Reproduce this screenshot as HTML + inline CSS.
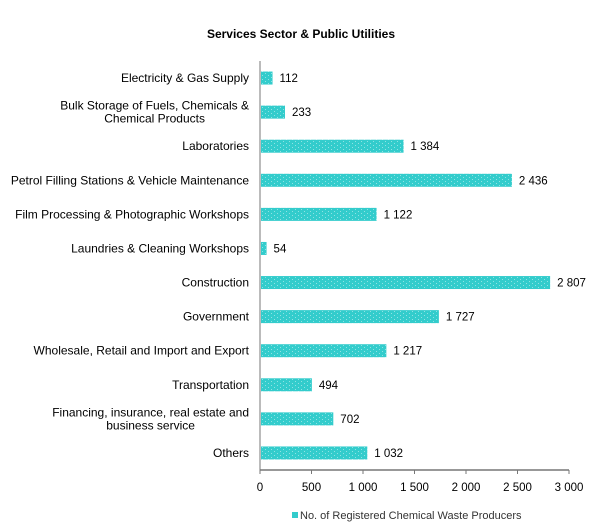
<!DOCTYPE html>
<html><head><meta charset="utf-8"><style>
body{margin:0;background:#fff;}
svg{display:block;font-family:"Liberation Sans",Arial,sans-serif;}
</style></head><body>
<svg id="c" width="601" height="530">
<defs><pattern id="dots" width="6" height="4" patternUnits="userSpaceOnUse"><rect width="6" height="4" fill="#33cccc"/><rect x="1" y="1" width="1" height="1" fill="#8fe3e3"/><rect x="4" y="3" width="1" height="1" fill="#8fe3e3"/></pattern></defs>
<text x="301" y="38" text-anchor="middle" font-size="12" font-weight="bold">Services Sector &amp; Public Utilities</text>
</svg>
<script>
const categories=[["Electricity & Gas Supply"],["Bulk Storage of Fuels, Chemicals &","Chemical Products"],["Laboratories"],["Petrol Filling Stations & Vehicle Maintenance"],["Film Processing & Photographic Workshops"],["Laundries & Cleaning Workshops"],["Construction"],["Government"],["Wholesale, Retail and Import and Export"],["Transportation"],["Financing, insurance, real estate and","business service"],["Others"]];
const values=[112,233,1384,2436,1122,54,2807,1727,1217,494,702,1032];
const valueLabels=["112","233","1 384","2 436","1 122","54","2 807","1 727","1 217","494","702","1 032"];
const ticks=[0,500,1000,1500,2000,2500,3000];
const tickLabels=["0","500","1 000","1 500","2 000","2 500","3 000"];
const svg=document.getElementById('c');const NS='http://www.w3.org/2000/svg';
const x0=260,x1=569,xmax=3000,plotTop=61,plotBottom=470;
const band=(plotBottom-plotTop)/categories.length;
const X=v=>x0+v/xmax*(x1-x0);
const Y=i=>plotTop+band*(i+0.5);
function mk(t,a,txt){const e=document.createElementNS(NS,t);for(const k in a)e.setAttribute(k,a[k]);if(txt!=null)e.textContent=txt;svg.appendChild(e);return e;}
categories.forEach((c,i)=>{
 const y=Y(i);
 const r=mk('rect',{x:x0+1,y:y-6.5,width:X(values[i])-x0,height:13,fill:'url(#dots)'});
 
 
 const v=mk('text',{x:X(values[i])+8,y:y+4,'font-size':11.5},valueLabels[i]);
 
 
 const lines=c.map((line,j)=>{
  const t=mk('text',{x:249,y:y+4+(j-(c.length-1)/2)*13,'text-anchor':'end','font-size':12},line);
  
  
  return t;
 });
 if(lines.length>1){
  const w=Math.max(...lines.map(t=>t.getComputedTextLength()));
  lines.forEach(t=>{t.setAttribute('text-anchor','middle');t.setAttribute('x',249-w/2);});
 }
});
const ax=mk('line',{x1:x0,y1:plotBottom,x2:x1,y2:plotBottom,stroke:'#777','stroke-width':1.5});


const ay=mk('line',{x1:x0,y1:plotTop,x2:x0,y2:plotBottom+4,stroke:'#777','stroke-width':1});


ticks.forEach((t,i)=>{
 mk('line',{x1:X(t),y1:plotBottom,x2:X(t),y2:plotBottom+4,stroke:'#777'});
 const l=mk('text',{x:X(t),y:plotBottom+21,'text-anchor':'middle','font-size':11.5},tickLabels[i]);
 
 
});
const ls=mk('rect',{x:292,y:512,width:6,height:6,fill:'#33cccc'});


const lt=mk('text',{x:300,y:519,'font-size':11,fill:'#333'},'No. of Registered Chemical Waste Producers');


</script>
</body></html>
